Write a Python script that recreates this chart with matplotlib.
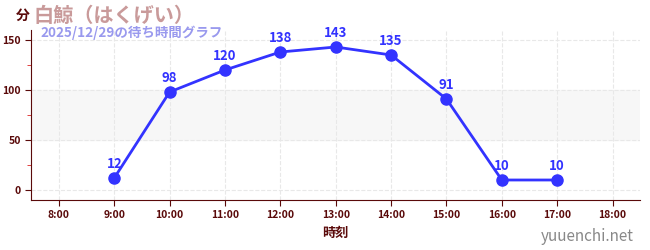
import matplotlib
matplotlib.use("Agg")
import matplotlib.pyplot as plt

plt.rcParams['font.family'] = ['Noto Sans CJK JP', 'DejaVu Sans']

# データ
hours = [9, 10, 11, 12, 13, 14, 15, 16, 17]
waits = [12, 98, 120, 138, 143, 135, 91, 10, 10]
xtick_hours = list(range(8, 19))
xtick_labels = [f"{h}:00" for h in xtick_hours]
yticks = [0, 50, 100, 150]

dark = '#5a0a0a'
blue = '#3333ff'

fig = plt.figure(figsize=(6.5, 2.5), dpi=100)
ax = fig.add_axes([0.048, 0.2, 0.937, 0.68])

# 50〜100の帯
ax.axhspan(50, 100, color='#f7f7f7', zorder=0)

ax.plot(hours, waits, color=blue, linewidth=2.0, marker='o', markersize=8, zorder=3)
for h, w in zip(hours, waits):
    ax.annotate(str(w), (h, w), xytext=(0, 5), textcoords='offset points',
                ha='center', va='bottom', color=blue, fontsize=9.5, fontweight='bold')

ax.set_xlim(7.5, 18.5)
ax.set_ylim(-10, 160)
ax.set_xticks(xtick_hours)
ax.set_xticklabels(xtick_labels)
ax.set_yticks(yticks)
ax.set_yticks([25, 75, 125], minor=True)
ax.tick_params(axis='both', colors=dark, labelsize=7.5, length=4)
ax.tick_params(axis='y', which='minor', colors='#dd2222', length=3)
for lab in ax.get_xticklabels() + ax.get_yticklabels():
    lab.set_fontweight('bold')

ax.grid(True, which='major', linestyle='--', color='#e8e8e8', linewidth=0.8)
ax.set_axisbelow(True)
ax.spines['top'].set_visible(False)
ax.spines['right'].set_visible(False)
ax.spines['left'].set_color(dark)
ax.spines['bottom'].set_color(dark)

ax.set_xlabel("時刻", color=dark, fontsize=9.5, fontweight='bold')

fig.text(0.025, 0.935, "分", color=dark, fontsize=10, fontweight='bold', va='center')
fig.text(0.052, 0.94, "白鯨（はくげい）", color='#c99a9a', fontsize=14.5, fontweight='bold', va='center')
fig.text(0.062, 0.87, "2025/12/29の待ち時間グラフ", color='#9999ee', fontsize=9.7, fontweight='bold', va='center')
fig.text(0.975, 0.055, "yuuenchi.net", color='#888888', fontsize=11, ha='right', va='center')

fig.savefig("out.png", dpi=100)
